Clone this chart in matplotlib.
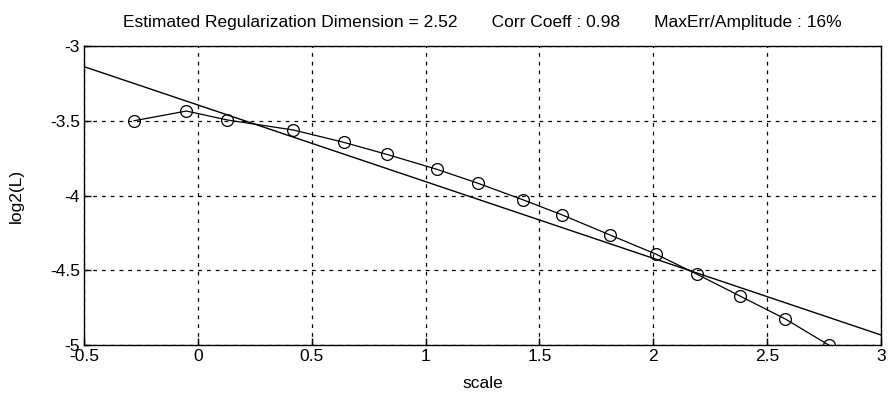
import matplotlib
matplotlib.use('Agg')
import matplotlib.pyplot as plt

# measured points (scale, log2(L))
scale = [-0.28, -0.05, 0.13, 0.42, 0.64, 0.83, 1.05, 1.23,
         1.43, 1.60, 1.81, 2.01, 2.19, 2.38, 2.58, 2.77]
log2L = [-3.50, -3.435, -3.495, -3.562, -3.644, -3.725, -3.825, -3.918,
         -4.030, -4.130, -4.264, -4.391, -4.525, -4.672, -4.826, -5.00]

# regression line end points
fit_x = [-0.5, 3.0]
fit_y = [-3.138, -4.933]

gap = ' ' * 7
title_txt = ('Estimated Regularization Dimension = 2.52' + gap +
             'Corr Coeff : 0.98' + gap + 'MaxErr/Amplitude : 16%')

plt.rcParams['font.family'] = ['Liberation Sans', 'DejaVu Sans']

fig = plt.figure(figsize=(8.88, 3.98), dpi=100)
ax = fig.add_axes([84/888, 53/398, 797/888, 299/398])

ax.plot(fit_x, fit_y, color='black', lw=1.0)
ax.plot(scale, log2L, color='black', lw=0.9, marker='o', markersize=8.5,
        markerfacecolor='none', markeredgecolor='black', markeredgewidth=0.9)

ax.set_xlim(-0.5, 3)
ax.set_ylim(-5, -3)
ax.set_xticks([-0.5, 0, 0.5, 1, 1.5, 2, 2.5, 3])
ax.set_xticklabels(['-0.5', '0', '0.5', '1', '1.5', '2', '2.5', '3'])
ax.set_yticks([-5, -4.5, -4, -3.5, -3])
ax.set_yticklabels(['-5', '-4.5', '-4', '-3.5', '-3'])
ax.grid(True, color='black', linestyle=(0, (3, 4)), linewidth=0.9)
ax.tick_params(direction='in', length=5, width=1, labelsize=12.5,
               top=False, right=False, pad=3)
for s in ax.spines.values():
    s.set_linewidth(1.0)

ax.set_xlabel('scale', fontsize=12.5)
ax.set_ylabel('log2(L)', fontsize=12.5)
ax.xaxis.set_label_coords(0.5, -0.105)
ax.yaxis.set_label_coords(-0.076, 0.5)
ax.set_title(title_txt, fontsize=12.5, pad=14)

fig.savefig('out.png', dpi=100)
